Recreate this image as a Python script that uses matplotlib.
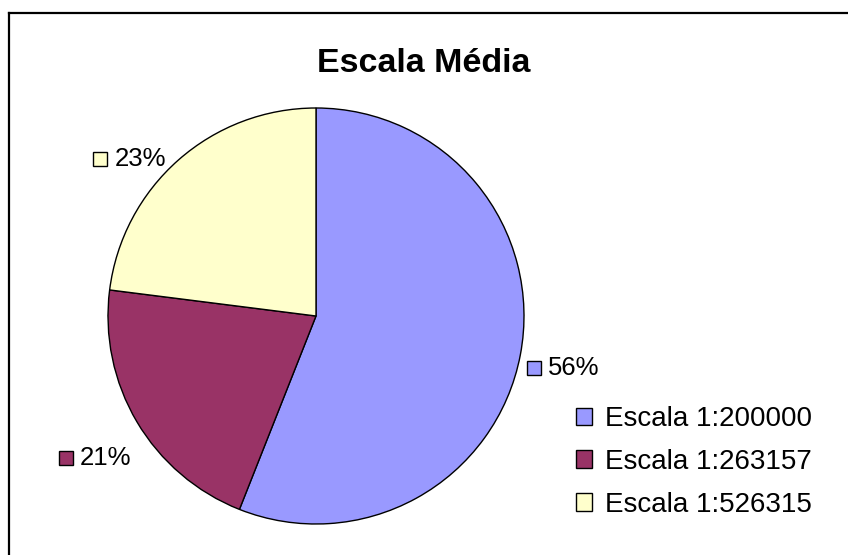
import numpy as np
import matplotlib
matplotlib.use("Agg")
import matplotlib.pyplot as plt
from matplotlib.patches import Patch
from matplotlib.lines import Line2D
from matplotlib.transforms import offset_copy

plt.rcParams['font.family'] = ['Liberation Sans', 'DejaVu Sans']

# data
categories = ['Escala 1:200000', 'Escala 1:263157', 'Escala 1:526315']
shares = [56, 21, 23]
colors = ['#9999FF', '#993366', '#FFFFCC']
# label offsets (pixels) from the wedge mid point on the rim
label_offsets = [(14, -13), (-71, -36), (-78, 1)]

W, H = 848, 555
fig = plt.figure(figsize=(W / 100, H / 100), dpi=100)

cx, cy, r = 316, 316, 208
ax = fig.add_axes([(cx - r) / W, (H - cy - r) / H, 2 * r / W, 2 * r / H])
wedges, _ = ax.pie(shares, colors=colors, startangle=90, counterclock=False,
                   radius=1, wedgeprops=dict(edgecolor='black', linewidth=1))
ax.set_xlim(-1, 1)
ax.set_ylim(-1, 1)
ax.set_aspect('equal')
ax.axis('off')

# percentage labels with little colour squares
for w, pct, col, (dx, dy) in zip(wedges, shares, colors, label_offsets):
    mid = np.deg2rad((w.theta1 + w.theta2) / 2)
    x, y = np.cos(mid), np.sin(mid)
    tr = offset_copy(ax.transData, fig=fig, x=dx, y=dy, units='dots')
    ax.plot([x], [y], marker='s', ms=10.5, mfc=col, mec='black', mew=1,
            transform=tr, clip_on=False)
    ax.annotate('{}%'.format(pct), xy=(x, y), xytext=(dx + 14, dy),
                textcoords='offset pixels', ha='left', va='center',
                fontsize=18.5, annotation_clip=False)

handles = [Patch(facecolor=c, edgecolor='black', linewidth=1) for c in colors]
fig.legend(handles, categories, loc='upper left',
           bbox_to_anchor=(576 / W, 1 - 406 / H), frameon=False,
           fontsize=20, handlelength=0.58, handleheight=0.58,
           handletextpad=0.47, labelspacing=0.61, borderpad=0, borderaxespad=0)

fig.text(0.5, 1 - 63 / H, 'Escala Média', ha='center', va='center',
         fontsize=24.5, fontweight='bold')

# chart area border (only top and left visible)
fig.add_artist(Line2D([9 / W, 1.0], [1 - 13 / H, 1 - 13 / H], color='black', lw=1.6))
fig.add_artist(Line2D([9 / W, 9 / W], [0.0, 1 - 13 / H], color='black', lw=1.6))

fig.savefig('out.png', dpi=100)
